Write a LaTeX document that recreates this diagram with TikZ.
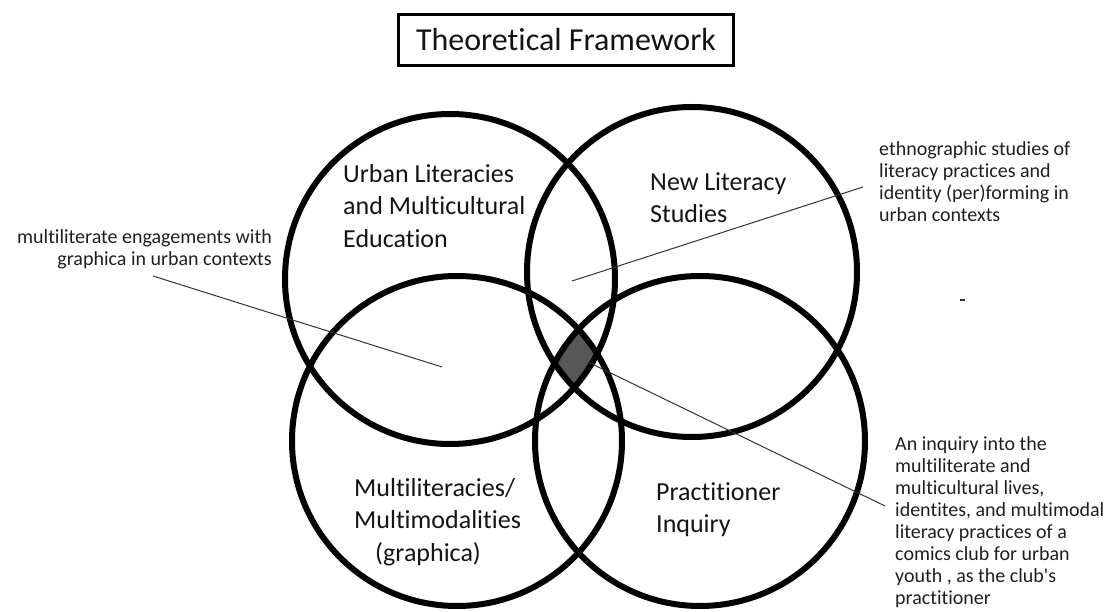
\documentclass[tikz,border=0pt]{standalone}
\usepackage{fontspec}
\setmainfont{Carlito}[Ligatures={NoCommon}]
\begin{document}
\begin{tikzpicture}[x=1pt,y=-1pt,
  ring/.style={line width=6pt, draw=black},
  core/.style={fill=black!66},
  heading/.style={draw=black, line width=3pt, minimum width=335pt, minimum height=51pt,
    inner sep=0pt, font=\fontsize{32pt}{38pt}\selectfont, text=black!92},
  field/.style={inner sep=0pt, align=left, text=black!92,
    font=\fontsize{26pt}{32.5pt}\selectfont},
  note/.style={inner sep=0pt, text=black!88, font=\fontsize{20pt}{22pt}\selectfont},
  pointer/.style={line width=1pt, draw=black!80}]
\useasboundingbox (0,0) rectangle (1112,612);

% title
\node[heading] (title) at (566,40) {Theoretical Framework};

% circle centres and radius
\coordinate (cA) at (450,279);
\coordinate (cB) at (692,272);
\coordinate (cC) at (457,441);
\coordinate (cD) at (700,441);
\def\rr{165pt}

% shaded region shared by all four circles
\begin{scope}
  \clip (cA) circle[radius=\rr];
  \clip (cB) circle[radius=\rr];
  \clip (cC) circle[radius=\rr];
  \fill[core] (cD) circle[radius=\rr];
\end{scope}

% the four circles
\draw[ring] (cA) circle[radius=\rr];
\draw[ring] (cB) circle[radius=\rr];
\draw[ring] (cC) circle[radius=\rr];
\draw[ring] (cD) circle[radius=\rr];

% circle labels
\node[field, anchor=north west] (urban) at (343,164) {Urban Literacies\\and Multicultural\\Education};
\node[field, anchor=north west] (nls) at (650,172) {New Literacy\\Studies};
\node[field, anchor=north west] (multi) at (354,478) {Multiliteracies/\\Multimodalities\\\hspace*{21pt}(graphica)};
\node[field, anchor=north west] (pract) at (656,482) {Practitioner\\Inquiry};

% side notes
\node[note, anchor=north east, align=right] (noteL) at (272,229)
  {multiliterate engagements with\\graphica in urban contexts};
\node[note, anchor=north west, align=left] (noteTR) at (879,141)
  {ethnographic studies of\\literacy practices and\\identity (per)forming in\\urban contexts};
\node[note, anchor=north west, align=left] (noteBR) at (895,436)
  {An inquiry into the\\multiliterate and\\multicultural lives,\\identites, and multimodal\\literacy practices of a\\comics club for urban\\youth , as the club\textquotesingle s\\practitioner};

% pointer lines
\coordinate (pLa) at (153,276);
\coordinate (pLb) at (442,367);
\coordinate (pTa) at (863,187);
\coordinate (pTb) at (572,281);
\coordinate (pBa) at (885,506);
\coordinate (pBb) at (588,362);
\draw[pointer] (pLa) -- (pLb);
\draw[pointer] (pTa) -- (pTb);
\draw[pointer] (pBa) -- (pBb);

% small stray mark
\coordinate (m1) at (960,300);
\coordinate (m2) at (965,300);
\draw[line width=1.2pt, black!80] (m1) -- (m2);
\end{tikzpicture}
\end{document}
